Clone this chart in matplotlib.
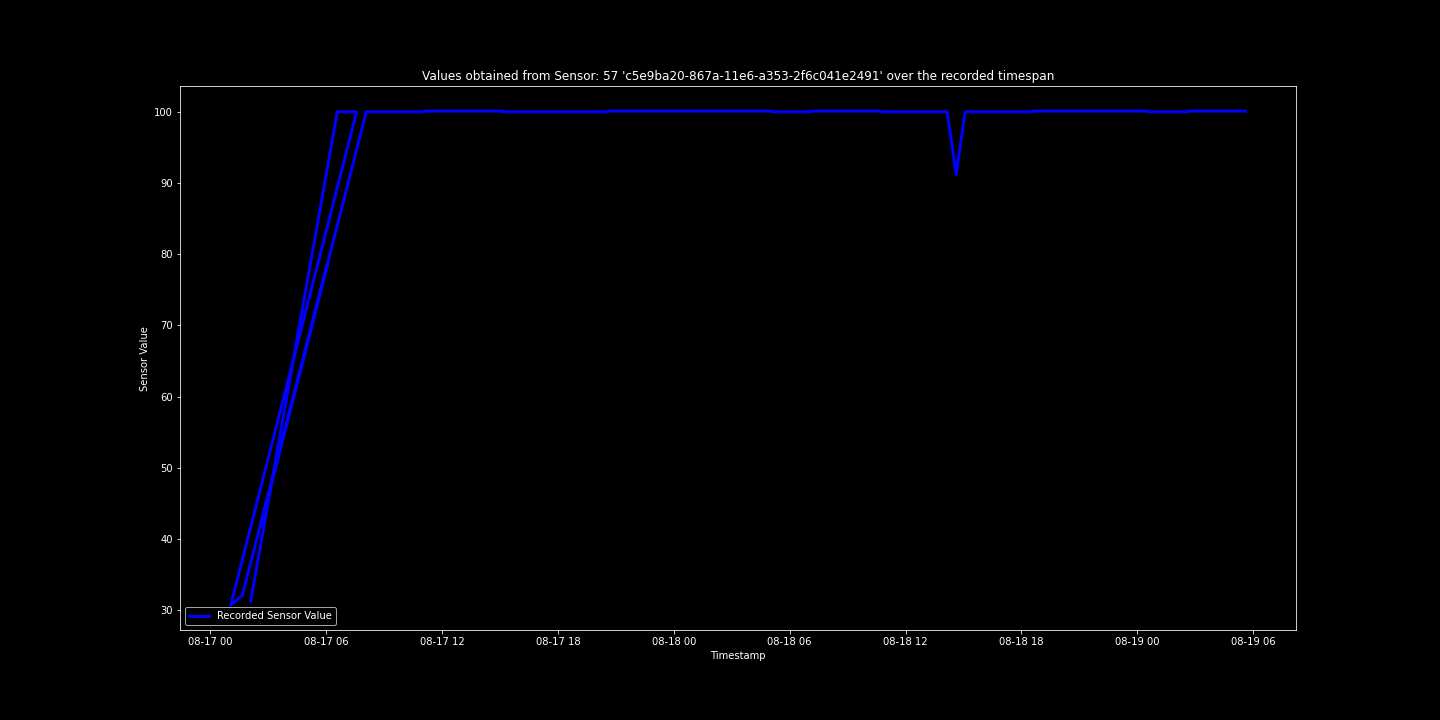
import pandas as pd
import matplotlib.pyplot as plt
import matplotlib.dates as mdates

plt.style.use('dark_background')

# recorded readings, in the order they appear in the log (not sorted by time)
timestamps = [
    "2016-08-17 02:06", "2016-08-17 06:35", "2016-08-17 07:35", "2016-08-17 01:04",
    "2016-08-17 01:40", "2016-08-17 06:05", "2016-08-17 02:37", "2016-08-17 08:05",
    "2016-08-17 11:04", "2016-08-17 11:05", "2016-08-17 15:09", "2016-08-17 15:10",
    "2016-08-17 20:34", "2016-08-17 20:35", "2016-08-18 05:06", "2016-08-18 05:07",
    "2016-08-18 07:04", "2016-08-18 07:05", "2016-08-18 10:42", "2016-08-18 10:43",
    "2016-08-18 14:09", "2016-08-18 14:37", "2016-08-18 15:05", "2016-08-18 18:33",
    "2016-08-18 18:34", "2016-08-19 00:33", "2016-08-19 00:34", "2016-08-19 02:35",
    "2016-08-19 02:36", "2016-08-19 05:35",
]
values = [
    31.3, 100.0, 100.0, 30.7,
    32.1, 78.7, 41.9, 100.0,
    100.0, 100.1, 100.1, 100.0,
    100.0, 100.1, 100.1, 100.0,
    100.0, 100.1, 100.1, 100.0,
    100.0, 91.2, 100.0, 100.0,
    100.1, 100.1, 100.0, 100.0,
    100.1, 100.1,
]

sensor_id = 57
sensor_uuid = 'c5e9ba20-867a-11e6-a353-2f6c041e2491'

df = pd.DataFrame({'ts': pd.to_datetime(timestamps), 'value': values})

fig = plt.figure(figsize=(20, 10), dpi=72)
ax = fig.add_subplot(111)
fig.subplots_adjust(left=0.125, right=0.9, top=0.88, bottom=0.125)

ax.plot(df['ts'], df['value'], color='blue', linewidth=3, label='Recorded Sensor Value')

# x-axis as dates, every 6 hours
ax.xaxis.set_major_locator(mdates.HourLocator(byhour=[0, 6, 12, 18]))
ax.xaxis.set_major_formatter(mdates.DateFormatter('%m-%d %H'))

ax.set_title(f"Values obtained from Sensor: {sensor_id} '{sensor_uuid}' over the recorded timespan")
ax.set_xlabel('Timestamp')
ax.set_ylabel('Sensor Value')
ax.legend(loc='lower left')

plt.savefig('out.png', dpi=72)
plt.close()
